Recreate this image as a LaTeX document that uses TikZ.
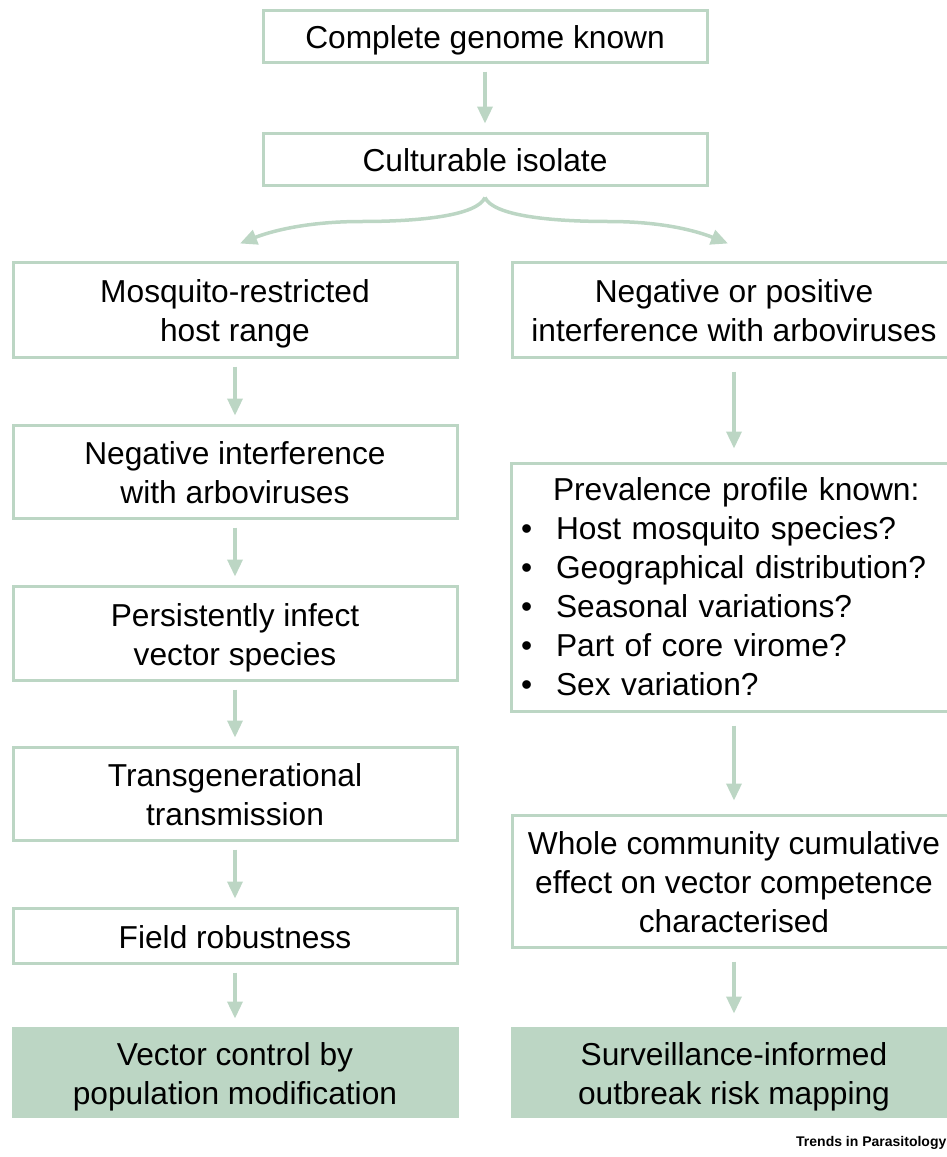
\documentclass[tikz,border=0pt]{standalone}
\usepackage{fontspec}
\setmainfont{Liberation Sans}
\usetikzlibrary{arrows.meta}
\definecolor{sage}{RGB}{188,214,196}

\begin{document}
\begin{tikzpicture}[x=1pt,y=-1pt,
        plain/.style={draw=sage, line width=3pt, align=center, inner sep=0pt,
            minimum width=444pt, font=\fontsize{31.7}{39}\selectfont},
        box/.style={plain, text height=30pt, text depth=5pt},
        twoline/.style={text height=69pt},
        threeline/.style={text height=108pt},
        goal/.style={box, fill=sage},
        arr/.style={draw=sage, line width=3.5pt, -{Triangle[width=15pt,length=17pt]},
            shorten <=8pt, shorten >=8pt},
        arrwide/.style={arr, shorten <=13pt, shorten >=13pt}]
    \useasboundingbox (0,0) rectangle (946,1157);
    % top of the chart
    \node[box, minimum height=52pt] (genome) at (485,36) {Complete genome known};
    \node[box, minimum height=52pt] (isolate) at (485,159) {Culturable isolate};
    % left branch
    \node[box, twoline, minimum height=95pt] (hostrange) at (235,309.5) {Mosquito-restricted\\host range};
    \node[box, twoline, minimum height=93pt] (negint) at (235,471.5) {Negative interference\\with arboviruses};
    \node[box, twoline, minimum height=94pt] (persist) at (235,633) {Persistently infect\\vector species};
    \node[box, twoline, minimum height=93pt] (transgen) at (235,793.5) {Transgenerational\\transmission};
    \node[box, minimum height=55pt] (field) at (235,935.5) {Field robustness};
    \node[goal, twoline, minimum height=88pt] (control) at (235,1072) {Vector control by\\population modification};
    % right branch
    \node[box, twoline, minimum height=95pt] (posint) at (734,309.5) {Negative or positive\\interference with arboviruses};
    \node[plain, minimum height=248pt, align=left, text width=426pt, inner xsep=10pt] (prevalence) at (734,587)
        {\hspace*{32pt}Prevalence profile known:\\
         \makebox[35pt][l]{\textbullet}Host mosquito species?\\
         \makebox[35pt][l]{\textbullet}Geographical distribution?\\
         \makebox[35pt][l]{\textbullet}Seasonal variations?\\
         \makebox[35pt][l]{\textbullet}Part of core virome?\\
         \makebox[35pt][l]{\textbullet}Sex variation?};
    \node[box, threeline, minimum height=132pt] (community) at (734,881)
        {Whole community cumulative\\effect on vector competence\\characterised};
    \node[goal, twoline, minimum height=88pt] (surveil) at (734,1072) {Surveillance-informed\\outbreak risk mapping};

    % arrows
    \draw[arr] (genome) -- (isolate);
    \draw[arr] (hostrange) -- (negint);
    \draw[arr] (negint) -- (persist);
    \draw[arr] (persist) -- (transgen);
    \draw[arr] (transgen) -- (field);
    \draw[arr] (field) -- (control);
    \draw[arrwide] (posint) -- (prevalence);
    \draw[arrwide] (prevalence) -- (community);
    \draw[arrwide] (community) -- (surveil);

    % the split below the isolate
    \coordinate (fork) at ([yshift=-11pt]isolate.south);
    \coordinate (lefttip) at ([xshift=5pt,yshift=17pt]hostrange.north);
    \coordinate (righttip) at ([xshift=-6pt,yshift=17pt]posint.north);
    \draw[arr, shorten <=0pt, shorten >=0pt] (fork) .. controls +(-8,18) and +(60,0) .. ++(-124,24)
        .. controls +(-60,0) and +(25,-10) .. (lefttip);
    \draw[arr, shorten <=0pt, shorten >=0pt] (fork) .. controls +(8,18) and +(-60,0) .. ++(124,24)
        .. controls +(60,0) and +(-25,-10) .. (righttip);

    \node[anchor=west, inner sep=0pt, font=\fontsize{14}{14}\bfseries] (journal) at (796,1143) {Trends in Parasitology};
\end{tikzpicture}
\end{document}
